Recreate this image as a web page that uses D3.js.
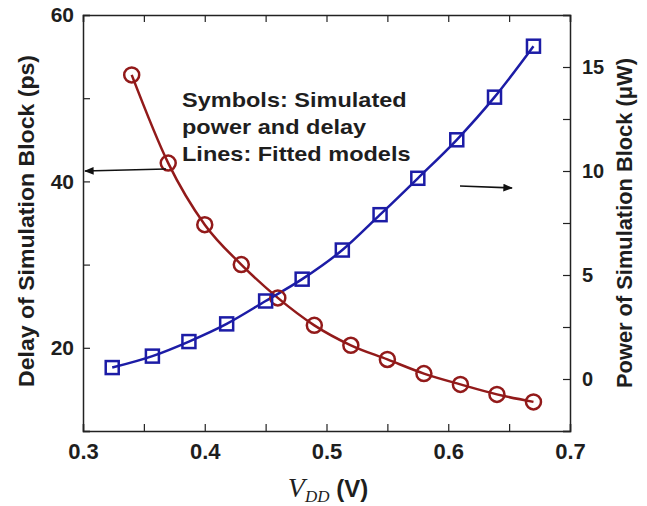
<!DOCTYPE html>
<html>
<head>
<meta charset="utf-8">
<script src="https://cdn.jsdelivr.net/npm/d3@7"></script>
<style>
  body { margin: 0; background: #fff; }
  text { font-family: "Liberation Sans", Arial, sans-serif; }
</style>
</head>
<body>
<div id="chart"></div>
<script>

// data
const delayVdd = [0.34, 0.37, 0.40, 0.43, 0.46, 0.49, 0.52, 0.55, 0.58, 0.61, 0.64, 0.67]
const delayPs  = [52.8, 42.2, 34.8, 30.0, 26.0, 22.7, 20.3, 18.6, 16.9, 15.6, 14.4, 13.5]

const powerVdd = [0.324, 0.357, 0.387, 0.418, 0.450, 0.480, 0.513, 0.544, 0.575, 0.607, 0.638, 0.670]
const powerUw  = [0.55, 1.1, 1.8, 2.65, 3.75, 4.8, 6.2, 7.9, 9.65, 11.5, 13.55, 16.0]

const xTicks = [0.3, 0.4, 0.5, 0.6, 0.7]
const leftTicks = [20, 40, 60]
const rightTicks = [0, 5, 10, 15]

const noteLines = ['Symbols: Simulated', 'power and delay', 'Lines: Fitted models']

// chart setting
const chart = {
  width: 647,
  height: 506,
  left: 83,
  right: 570,
  top: 15,
  bottom: 431
}
const red = '#921a1a'
const blue = '#1c1ca6'
const ink = '#1e1e1e'

const svg = d3.select('#chart')
  .append('svg')
    .attr('width', chart.width)
    .attr('height', chart.height)

const xScale = d3.scaleLinear().domain([0.3, 0.7]).range([chart.left, chart.right])
const yLeft = d3.scaleLinear().domain([10, 60]).range([chart.bottom, chart.top])
const yRight = d3.scaleLinear().domain([-2.5, 17.5]).range([chart.bottom, chart.top])

// axes, ticks inward
function styleAxis (g, size) {
  g.select('.domain').attr('stroke', '#222').attr('stroke-width', 1.5)
  g.selectAll('.tick line').attr('stroke', '#222').attr('stroke-width', 1.2)
  g.selectAll('.tick text')
    .attr('font-size', size)
    .attr('font-weight', 'bold')
    .attr('fill', ink)
}

svg.append('g')
  .attr('transform', `translate(0,${chart.bottom})`)
  .call(d3.axisBottom(xScale).tickValues(d3.range(0.3, 0.7001, 0.05)).tickSize(-7).tickPadding(12)
    .tickFormat(d => xTicks.some(t => Math.abs(t - d) < 1e-9) ? d3.format('.1f')(d) : ''))
  .call(g => styleAxis(g, 22))

svg.append('g')
  .attr('transform', `translate(0,${chart.top})`)
  .call(d3.axisTop(xScale).tickValues(d3.range(0.3, 0.7001, 0.05)).tickSize(-7).tickFormat(''))
  .call(g => styleAxis(g, 20))

svg.append('g')
  .attr('transform', `translate(${chart.left},0)`)
  .call(d3.axisLeft(yLeft).tickValues([10, 20, 30, 40, 50, 60]).tickSize(-7).tickPadding(9)
    .tickFormat(d => leftTicks.includes(d) ? d : ''))
  .call(g => styleAxis(g, 21))

svg.append('g')
  .attr('transform', `translate(${chart.right},0)`)
  .call(d3.axisRight(yRight).tickValues(d3.range(-2.5, 17.51, 2.5)).tickSize(-7).tickPadding(12)
    .tickFormat(d => rightTicks.includes(d) ? d : ''))
  .call(g => styleAxis(g, 20))

// axis titles
svg.append('text')
  .attr('transform', 'translate(34,221) rotate(-90)')
  .attr('text-anchor', 'middle')
  .attr('font-size', 22)
  .attr('font-weight', 'bold')
  .attr('fill', ink)
  .attr('textLength', 332)
  .attr('lengthAdjust', 'spacingAndGlyphs')
  .text('Delay of Simulation Block (ps)')

svg.append('text')
  .attr('transform', 'translate(632,223) rotate(-90)')
  .attr('text-anchor', 'middle')
  .attr('font-size', 22)
  .attr('font-weight', 'bold')
  .attr('fill', ink)
  .attr('textLength', 330)
  .attr('lengthAdjust', 'spacingAndGlyphs')
  .text('Power of Simulation Block (\u03bcW)')

const xt = svg.append('text')
  .attr('x', 328)
  .attr('y', 497)
  .attr('text-anchor', 'middle')
  .attr('fill', ink)
xt.append('tspan')
  .style('font-family', '"Liberation Serif", "Times New Roman", serif')
  .attr('font-style', 'italic')
  .attr('font-size', 28)
  .text('V')
xt.append('tspan')
  .style('font-family', '"Liberation Serif", "Times New Roman", serif')
  .attr('font-style', 'italic')
  .attr('font-size', 17)
  .attr('dy', 5)
  .text('DD')
xt.append('tspan')
  .attr('font-size', 24)
  .attr('font-weight', 'bold')
  .attr('dy', -5)
  .text(' (V)')

// fitted lines
const delayData = delayVdd.map((v, i) => ({x: v, y: delayPs[i]}))
const powerData = powerVdd.map((v, i) => ({x: v, y: powerUw[i]}))

svg.append('path')
  .datum(delayData)
  .attr('fill', 'none')
  .attr('stroke', red)
  .attr('stroke-width', 2.5)
  .attr('d', d3.line().x(d => xScale(d.x)).y(d => yLeft(d.y)).curve(d3.curveMonotoneX))

svg.append('path')
  .datum(powerData)
  .attr('fill', 'none')
  .attr('stroke', blue)
  .attr('stroke-width', 2.5)
  .attr('d', d3.line().x(d => xScale(d.x)).y(d => yRight(d.y)).curve(d3.curveMonotoneX))

// simulated symbols
svg.selectAll('.dot')
  .data(delayData)
  .join('circle')
    .attr('class', 'dot')
    .attr('cx', d => xScale(d.x))
    .attr('cy', d => yLeft(d.y))
    .attr('r', 7.5)
    .attr('fill', 'none')
    .attr('stroke', red)
    .attr('stroke-width', 2.5)

svg.selectAll('.sq')
  .data(powerData)
  .join('rect')
    .attr('class', 'sq')
    .attr('x', d => xScale(d.x) - 6.5)
    .attr('y', d => yRight(d.y) - 6.5)
    .attr('width', 13)
    .attr('height', 13)
    .attr('fill', 'none')
    .attr('stroke', blue)
    .attr('stroke-width', 2.5)

// note, slightly stretched sideways like the original
svg.append('g')
  .attr('transform', 'translate(182,0) scale(1.12,1)')
  .selectAll('text')
  .data(noteLines)
  .join('text')
    .attr('x', 0)
    .attr('y', (d, i) => 107 + i * 27)
    .attr('font-size', 21)
    .attr('font-weight', 'bold')
    .attr('fill', ink)
    .text(d => d)

// arrows pointing at the axes
svg.append('defs').append('marker')
  .attr('id', 'head')
  .attr('viewBox', '0 0 10 10')
  .attr('refX', 9).attr('refY', 5)
  .attr('markerWidth', 6).attr('markerHeight', 6)
  .attr('orient', 'auto')
  .append('path')
    .attr('d', 'M0,1 L10,5 L0,9 Z')
    .attr('fill', '#111')

svg.append('line')
  .attr('x1', 166).attr('y1', 169)
  .attr('x2', 85).attr('y2', 171)
  .attr('stroke', '#111').attr('stroke-width', 1.6)
  .attr('marker-end', 'url(#head)')

svg.append('line')
  .attr('x1', 460).attr('y1', 186)
  .attr('x2', 512).attr('y2', 188)
  .attr('stroke', '#111').attr('stroke-width', 1.6)
  .attr('marker-end', 'url(#head)')

</script>
</body>
</html>
